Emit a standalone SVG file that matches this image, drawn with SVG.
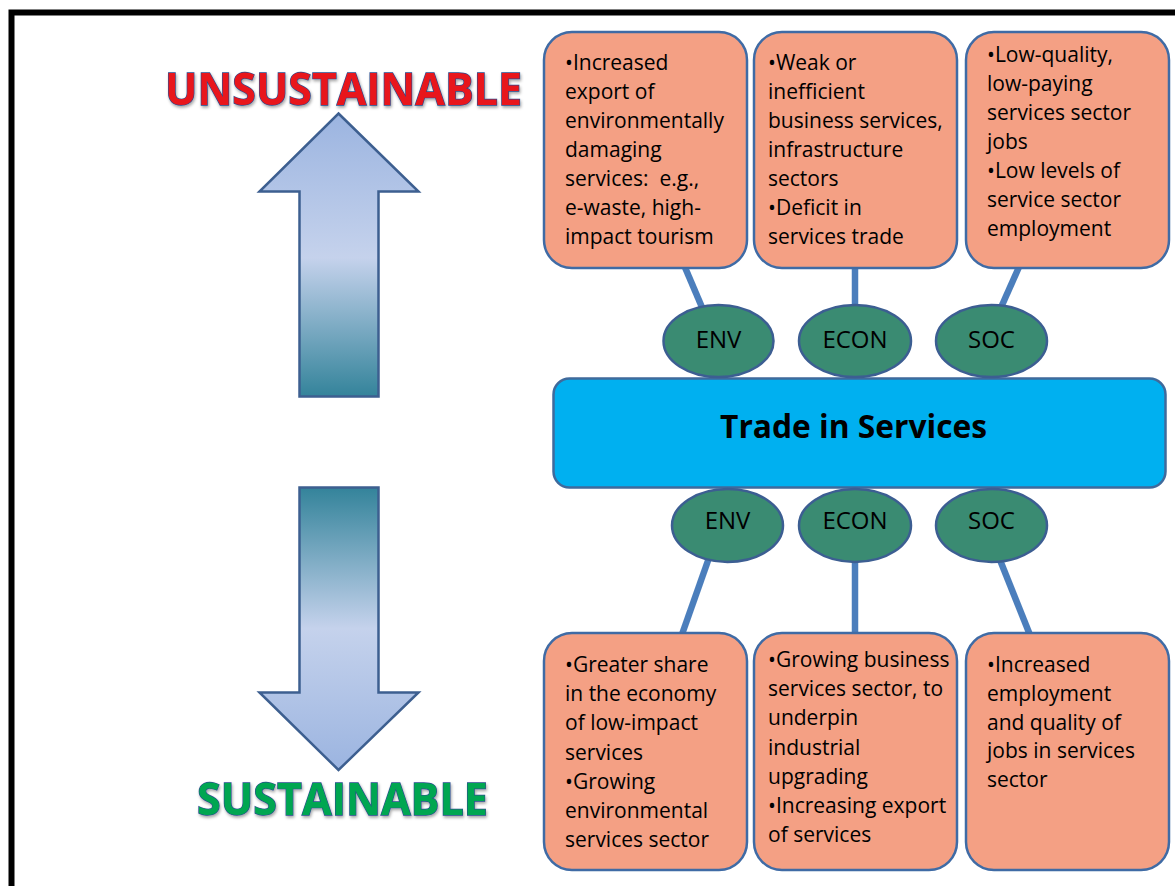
<svg xmlns="http://www.w3.org/2000/svg" width="1175" height="886" viewBox="0 0 1175 886">
  <style>
    .box { fill: #F4A084; stroke: #3F6BA5; stroke-width: 2.5; }
    .oval { fill: #3A8B72; stroke: #3C5E92; stroke-width: 2.5; }
    .link { stroke: #4B7EBC; stroke-width: 6.5; fill: none; }
    .body { font-family: "Open Sans", "Liberation Sans", sans-serif; font-size: 21px; fill: #000; white-space: pre; }
    .tag { font-family: "Open Sans", "Liberation Sans", sans-serif; font-size: 24px; fill: #000; text-anchor: middle; }
    .hub-label { font-family: "Open Sans", "Liberation Sans", sans-serif; font-size: 32px; font-weight: bold; fill: #000; }
    .title { font-family: "Open Sans", "Liberation Sans", sans-serif; font-size: 45px; font-weight: bold; stroke: #2A4C8E; stroke-width: 1.3; paint-order: stroke; }
    .arrow { stroke: #3D5F90; stroke-width: 2.5; }
  </style>
  <defs>
    <linearGradient id="gradUp" gradientUnits="userSpaceOnUse" x1="0" y1="113" x2="0" y2="397">
      <stop offset="0" stop-color="#9BB4E0"/>
      <stop offset="0.51" stop-color="#C5D2EC"/>
      <stop offset="1" stop-color="#33839A"/>
    </linearGradient>
    <linearGradient id="gradDown" gradientUnits="userSpaceOnUse" x1="0" y1="487" x2="0" y2="770">
      <stop offset="0" stop-color="#33839A"/>
      <stop offset="0.5" stop-color="#C5D2EC"/>
      <stop offset="1" stop-color="#9BB4E0"/>
    </linearGradient>
    <filter id="glow" x="-10%" y="-30%" width="120%" height="160%">
      <feGaussianBlur in="SourceAlpha" stdDeviation="1.5" result="b"/>
      <feOffset dx="1" dy="1.5" in="b" result="o"/>
      <feFlood flood-color="#000" flood-opacity="0.35"/>
      <feComposite in2="o" operator="in" result="s"/>
      <feMerge><feMergeNode in="s"/><feMergeNode in="SourceGraphic"/></feMerge>
    </filter>
  </defs>

  <rect width="1175" height="886" fill="#fff"/>
  <!-- outer frame (runs off the right and bottom edges) -->
  <rect x="11.5" y="12.5" width="1200" height="900" fill="none" stroke="#000" stroke-width="6"/>

  <!-- direction arrows and their labels -->
  <g id="scale-up">
    <polygon class="arrow" fill="url(#gradUp)" points="338.5,113.5 418.5,191.5 378.5,191.5 378.5,396.5 299.5,396.5 299.5,191.5 259.5,191.5"/>
    <text class="title" x="165" y="105" textLength="357" lengthAdjust="spacingAndGlyphs" fill="#E8141C" filter="url(#glow)">UNSUSTAINABLE</text>
  </g>
  <g id="scale-down">
    <polygon class="arrow" fill="url(#gradDown)" points="299.5,487.5 378.5,487.5 378.5,692.5 418.5,692.5 338.5,770 259.5,692.5 299.5,692.5"/>
    <text class="title" x="197" y="815" textLength="291" lengthAdjust="spacingAndGlyphs" fill="#00A651" filter="url(#glow)">SUSTAINABLE</text>
  </g>

  <!-- connectors -->
  <g id="connectors">
    <line class="link" x1="681" y1="258" x2="704" y2="312"/>
    <line class="link" x1="855" y1="258" x2="855" y2="312"/>
    <line class="link" x1="1023" y1="258" x2="999" y2="312"/>
    <line class="link" x1="710" y1="555" x2="680" y2="640"/>
    <line class="link" x1="855" y1="555" x2="855" y2="640"/>
    <line class="link" x1="998" y1="555" x2="1032" y2="640"/>
  </g>

  <!-- hub -->
  <g id="trade-in-services">
    <rect x="553.5" y="378.5" width="612" height="109" rx="16" ry="16" fill="#00B0F0" stroke="#3F6A9C" stroke-width="2.5"/>
    <text class="hub-label" x="720" y="438" textLength="267" lengthAdjust="spacingAndGlyphs">Trade in Services</text>
  </g>

  <!-- dimension tags above the hub -->
  <g id="env-top"><ellipse class="oval" cx="718.5" cy="341" rx="55" ry="36"/><text class="tag" x="718.5" y="348">ENV</text></g>
  <g id="econ-top"><ellipse class="oval" cx="855" cy="341" rx="56" ry="36"/><text class="tag" x="855" y="348">ECON</text></g>
  <g id="soc-top"><ellipse class="oval" cx="991.5" cy="341" rx="55.5" ry="36"/><text class="tag" x="991.5" y="348">SOC</text></g>

  <!-- dimension tags below the hub -->
  <g id="env-bottom"><ellipse class="oval" cx="727.5" cy="525.5" rx="55.5" ry="36.5"/><text class="tag" x="727.5" y="529">ENV</text></g>
  <g id="econ-bottom"><ellipse class="oval" cx="855" cy="525.5" rx="56" ry="36.5"/><text class="tag" x="855" y="529">ECON</text></g>
  <g id="soc-bottom"><ellipse class="oval" cx="991.5" cy="525.5" rx="55.5" ry="36.5"/><text class="tag" x="991.5" y="529">SOC</text></g>

  <!-- unsustainable outcomes -->
  <g id="env-unsustainable">
    <rect class="box" x="544" y="32" width="203" height="236" rx="28" ry="28"/>
    <text class="body" x="565" y="70"><tspan x="565">•Increased</tspan><tspan x="565" dy="29">export of</tspan><tspan x="565" dy="29">environmentally</tspan><tspan x="565" dy="29">damaging</tspan><tspan x="565" dy="29">services:  e.g.,</tspan><tspan x="565" dy="29">e-waste, high-</tspan><tspan x="565" dy="29">impact tourism</tspan></text>
  </g>
  <g id="econ-unsustainable">
    <rect class="box" x="754" y="32" width="203" height="236" rx="28" ry="28"/>
    <text class="body" x="768" y="70"><tspan x="768">•Weak or</tspan><tspan x="768" dy="29">inefficient</tspan><tspan x="768" dy="29">business services,</tspan><tspan x="768" dy="29">infrastructure</tspan><tspan x="768" dy="29">sectors</tspan><tspan x="768" dy="29">•Deficit in</tspan><tspan x="768" dy="29">services trade</tspan></text>
  </g>
  <g id="soc-unsustainable">
    <rect class="box" x="966" y="32" width="203" height="236" rx="28" ry="28"/>
    <text class="body" x="987" y="62"><tspan x="987">•Low-quality,</tspan><tspan x="987" dy="29">low-paying</tspan><tspan x="987" dy="29">services sector</tspan><tspan x="987" dy="29">jobs</tspan><tspan x="987" dy="29">•Low levels of</tspan><tspan x="987" dy="29">service sector</tspan><tspan x="987" dy="29">employment</tspan></text>
  </g>

  <!-- sustainable outcomes -->
  <g id="env-sustainable">
    <rect class="box" x="544" y="633" width="203" height="237" rx="28" ry="28"/>
    <text class="body" x="565" y="672"><tspan x="565">•Greater share</tspan><tspan x="565" dy="29.2">in the economy</tspan><tspan x="565" dy="29.2">of low-impact</tspan><tspan x="565" dy="29.2">services</tspan><tspan x="565" dy="29.2">•Growing</tspan><tspan x="565" dy="29.2">environmental</tspan><tspan x="565" dy="29.2">services sector</tspan></text>
  </g>
  <g id="econ-sustainable">
    <rect class="box" x="754" y="633" width="203" height="237" rx="28" ry="28"/>
    <text class="body" x="768" y="667"><tspan x="768">•Growing business</tspan><tspan x="768" dy="29.2">services sector, to</tspan><tspan x="768" dy="29.2">underpin</tspan><tspan x="768" dy="29.2">industrial</tspan><tspan x="768" dy="29.2">upgrading</tspan><tspan x="768" dy="29.2">•Increasing export</tspan><tspan x="768" dy="29.2">of services</tspan></text>
  </g>
  <g id="soc-sustainable">
    <rect class="box" x="966" y="633" width="203" height="237" rx="28" ry="28"/>
    <text class="body" x="987" y="672"><tspan x="987">•Increased</tspan><tspan x="987" dy="28.8">employment</tspan><tspan x="987" dy="28.8">and quality of</tspan><tspan x="987" dy="28.8">jobs in services</tspan><tspan x="987" dy="28.8">sector</tspan></text>
  </g>
</svg>
